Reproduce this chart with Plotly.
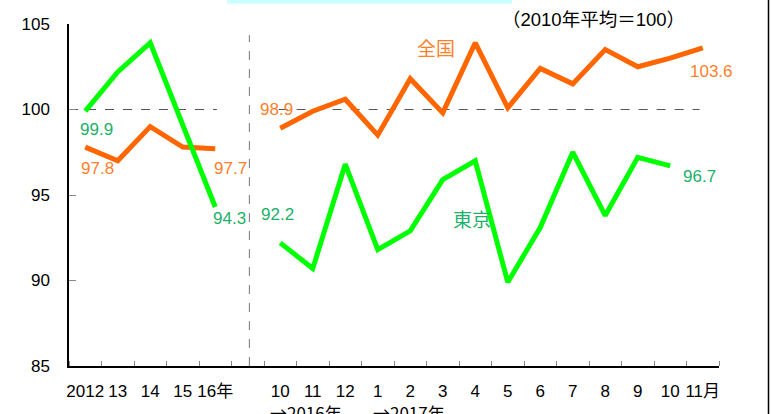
import plotly.graph_objects as go

# ---- data ----
categories = ["2012", "13", "14", "15", "16年", "",
              "10", "11", "12", "1", "2", "3", "4", "5", "6", "7", "8", "9", "10", "11月"]
zenkoku_annual = [97.8, 97.0, 99.0, 97.8, 97.7]
tokyo_annual = [99.9, 102.2, 103.9, 99.1, 94.3]
zenkoku_monthly = [98.9, 99.9, 100.6, 98.5, 101.8, 99.8, 103.9, 100.1, 102.4, 101.5, 103.5, 102.5, 103.0, 103.6]
tokyo_monthly = [92.2, 90.7, 96.8, 91.8, 92.9, 95.9, 97.0, 89.9, 93.1, 97.5, 93.8, 97.2, 96.7]
y_ticks = [85, 90, 95, 100, 105]

ORANGE = "#FF6600"
GREEN = "#00FF00"
ORANGE_TXT = "#FF7F2A"
GREEN_TXT = "#20B06A"
FONT = "Liberation Sans, Arial, Noto Sans CJK JP, sans-serif"
CJK = "Noto Sans CJK JP, sans-serif"

x_annual = list(range(0, 5))
x_monthly = list(range(6, 6 + len(zenkoku_monthly)))
x_monthly_t = list(range(6, 6 + len(tokyo_monthly)))

fig = go.Figure()
line_w = 5
fig.add_trace(go.Scatter(x=x_annual, y=zenkoku_annual, mode="lines",
                         line=dict(color=ORANGE, width=line_w), hoverinfo="skip"))
fig.add_trace(go.Scatter(x=x_annual, y=tokyo_annual, mode="lines",
                         line=dict(color=GREEN, width=line_w), hoverinfo="skip"))
fig.add_trace(go.Scatter(x=x_monthly, y=zenkoku_monthly, mode="lines",
                         line=dict(color=ORANGE, width=line_w), hoverinfo="skip"))
fig.add_trace(go.Scatter(x=x_monthly_t, y=tokyo_monthly, mode="lines",
                         line=dict(color=GREEN, width=line_w), hoverinfo="skip"))

# reference lines
fig.add_shape(type="line", x0=-0.5, x1=4.05, y0=100, y1=100,
              line=dict(color="#555555", width=1, dash="dash"), layer="below")
fig.add_shape(type="line", x0=5.95, x1=18.9, y0=100, y1=100,
              line=dict(color="#555555", width=1, dash="dash"), layer="below")
fig.add_shape(type="line", x0=5.05, x1=5.05, y0=85, y1=104.35,
              line=dict(color="#777777", width=1, dash="dash"), layer="below")

# cyan bar at top and right border
fig.add_shape(type="rect", xref="paper", yref="paper",
              x0=(227 - 69) / 650, x1=(512 - 69) / 650, y0=(366 - 0) / 342, y1=(366 - 3.7) / 342,
              line=dict(width=0), fillcolor="#CCFFFF")
fig.add_shape(type="line", xref="paper", yref="paper",
              x0=(768.5 - 69) / 650, x1=(768.5 - 69) / 650, y0=(366 - 414) / 342, y1=366 / 342,
              line=dict(color="black", width=1.5))

def ann(x, y, text, color, size=17, xanchor="center", yanchor="middle", family=FONT):
    fig.add_annotation(x=x, y=y, text=text, showarrow=False,
                       font=dict(color=color, size=size, family=family),
                       xanchor=xanchor, yanchor=yanchor)

ann(0.35, 98.85, "99.9", GREEN_TXT)
ann(0.39, 96.55, "97.8", ORANGE_TXT)
ann(4.46, 96.55, "97.7", ORANGE_TXT)
ann(5.87, 100.0, "98.9", ORANGE_TXT)
ann(4.43, 93.6, "94.3", GREEN_TXT)
ann(5.9, 93.85, "92.2", GREEN_TXT)
ann(11.9, 93.6, "東京", GREEN_TXT, size=19, family=CJK)
ann(10.79, 103.65, "全国", ORANGE_TXT, size=19, family=CJK)
ann(19.27, 102.25, "103.6", ORANGE_TXT)
ann(18.9, 96.1, "96.7", GREEN_TXT)

fig.add_annotation(x=(593 - 69) / 650, y=(366 - 19) / 342, xref="paper", yref="paper",
                   text="（2010年平均＝100）", showarrow=False,
                   font=dict(color="black", size=18.5, family=FONT),
                   xanchor="center", yanchor="middle")

# second row of x labels
fig.add_annotation(x=5.62, y=(366 - 412) / 342, yref="paper", text="→2016年", showarrow=False,
                   font=dict(color="black", size=17, family=CJK), xanchor="left", yanchor="middle")
fig.add_annotation(x=8.78, y=(366 - 412) / 342, yref="paper", text="→2017年", showarrow=False,
                   font=dict(color="black", size=17, family=CJK), xanchor="left", yanchor="middle")

fig.update_layout(
    width=771, height=414,
    margin=dict(l=69, r=51.5, t=24, b=48),
    paper_bgcolor="white", plot_bgcolor="white",
    showlegend=False,
    font=dict(family=FONT, size=17, color="black"),
)
fig.update_xaxes(
    range=[-0.5, 19.5],
    tickmode="array", tickvals=list(range(len(categories))), ticktext=categories,
    ticks="", showgrid=False, zeroline=False,
    showline=True, linecolor="black", linewidth=1.5,
    tickfont=dict(size=17, family=FONT, color="black"),
    ticklabelstandoff=9,
    minor=dict(tickmode="array", tickvals=[i - 0.5 for i in range(len(categories) + 1)],
               ticks="inside", ticklen=5, tickcolor="#888888", tickwidth=1, showgrid=False),
    fixedrange=True,
)
fig.update_yaxes(
    range=[85, 105], tickmode="array", tickvals=y_ticks,
    ticks="inside", ticklen=7, tickcolor="#888888", tickwidth=1,
    showgrid=False, zeroline=False,
    showline=True, linecolor="black", linewidth=1.5,
    tickfont=dict(size=17, family=FONT, color="black"),
    ticklabelstandoff=14,
    fixedrange=True,
)

fig.write_html("out.html", config={"displayModeBar": False},
               post_script="document.body.style.margin='0';document.body.style.overflow='hidden';")
